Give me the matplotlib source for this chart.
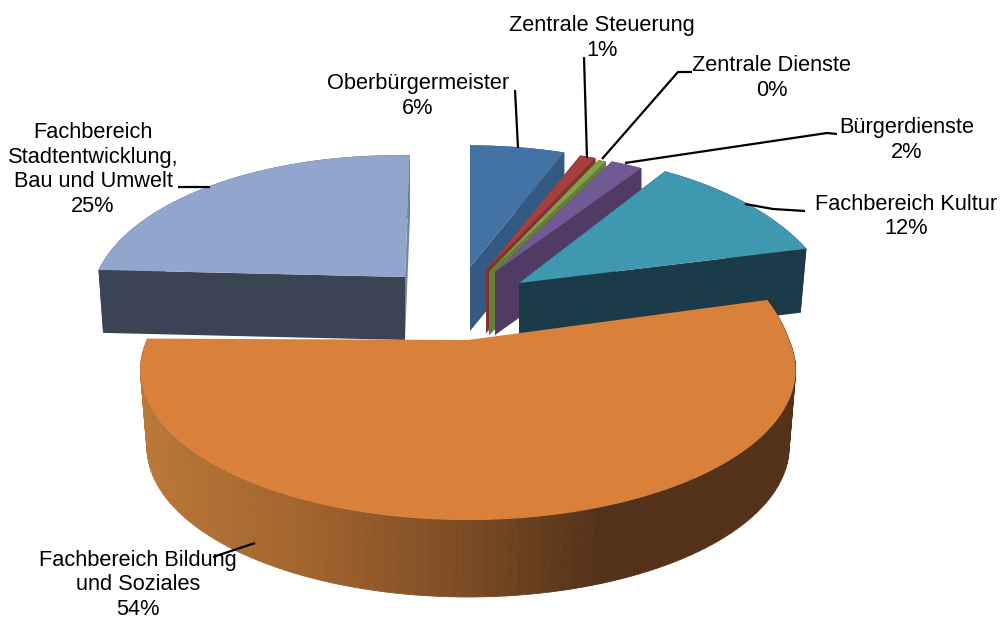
import numpy as np
import matplotlib
matplotlib.use('Agg')
import matplotlib.pyplot as plt
from matplotlib.colors import to_rgb

plt.rcParams['font.family'] = ['Liberation Sans', 'DejaVu Sans']

# chart data, clockwise from 12 o'clock
labels = ['Oberbürgermeister', 'Zentrale Steuerung', 'Zentrale Dienste', 'Bürgerdienste',
          'Fachbereich Kultur', 'Fachbereich Bildung\nund Soziales',
          'Fachbereich\nStadtentwicklung,\nBau und Umwelt']
values = [6, 1, 0.49, 2, 12, 54, 25]
percent_text = ['6%', '1%', '0%', '2%', '12%', '54%', '25%']

top_colors = ['#4372a5', '#a5403d', '#80a04a', '#715a93', '#3f97b0', '#d9813a', '#92a6cd']
wall_colors = ['#345a84', '#803332', '#647f35', '#4f3b63', '#1b3b48', '#8a5428', '#3b4455']

# exploded position and projection of each slice, in pixels
#           x0   y0   rx   ry  persp depth shrink
layout = [(470, 267, 305, 146, 0.20, 64, 1.00),
          (486, 270, 305, 146, 0.20, 63, 1.00),
          (489, 272, 305, 146, 0.20, 63, 1.00),
          (495, 272, 305, 146, 0.20, 63, 1.00),
          (519, 283, 310, 160, 0.226, 64, 0.98),
          (468, 340, 321, 144, 0.20, 77, 0.98),
          (405, 277, 307, 146, 0.20, 63, 0.985)]
draw_order = [0, 1, 2, 3, 4, 6, 5]
ORANGE = 5
SLATE = 6
back_ry = 186       # the orange slice leans a little more towards the back
slate_skew = 6

# label baselines and leader lines
text_pos = [(418, 89), (602, 31), (772, 71), (907, 133), (906, 210), (138, 566), (93, 138)]
leaders = [[(515, 90), (518, 148)],
           [(584, 57), (587, 158)],
           [(692, 72), (678, 72), (602, 159)],
           [(837, 134), (827, 133), (625, 163)],
           [(805, 211), (773, 209), (745, 204)],
           [(213, 557), (255, 543)],
           [(178, 187), (210, 187)]]
line_gap = 24.5

fractions = np.array(values) / sum(values)
edges = np.concatenate([[0], np.cumsum(fractions)]) * 2 * np.pi


def project(i, angle, bottom=False):
    x0, y0, rx, ry, k, depth, shrink = layout[i]
    u = np.sin(angle)
    v = np.cos(angle)
    skew = slate_skew if i == SLATE else 0
    ry_here = np.where((i == ORANGE) & (v > 0), back_ry, ry)
    x = (rx * u + skew * v) / (1 + k * v)
    y = (ry_here * v - skew * u) / (1 + k * v)
    if bottom:
        return x0 + x * shrink, y0 - y + depth
    return x0 + x, y0 - y


def orange_shade(x):
    stops_x = [140, 300, 470, 600, 795]
    stops = [to_rgb(c) for c in ['#ba7838', '#a3652f', '#7a4b24', '#543219', '#543219']]
    return tuple(np.interp(x, stops_x, [s[n] for s in stops]) for n in range(3))


fig = plt.figure(figsize=(10, 6.19), dpi=100)
ax = fig.add_axes([0, 0, 1, 1])
ax.set_xlim(0, 1000)
ax.set_ylim(619, 0)
ax.axis('off')

for i in draw_order:
    x0, y0 = layout[i][:2]
    depth = layout[i][5]
    angles = np.linspace(edges[i], edges[i + 1], 120 if i == ORANGE else 40)
    tx, ty = project(i, angles)
    bx, by = project(i, angles, bottom=True)

    # outer wall, the big slice gets a gradient
    if i == ORANGE:
        for n in range(len(angles) - 1):
            c = orange_shade((tx[n] + tx[n + 1]) / 2)
            ax.fill([tx[n], tx[n + 1], bx[n + 1], bx[n]], [ty[n], ty[n + 1], by[n + 1], by[n]],
                    facecolor=c, edgecolor=c, lw=0.6)
    else:
        ax.fill(np.r_[tx, bx[::-1]], np.r_[ty, by[::-1]], color=wall_colors[i], lw=0)

    # radial walls
    if i != ORANGE:
        ax.fill([x0, tx[0], bx[0], x0], [y0, ty[0], by[0], y0 + depth], color=wall_colors[i], lw=0)
        end_color = '#7088ab' if i == SLATE else wall_colors[i]
        ax.fill([x0, tx[-1], bx[-1], x0], [y0, ty[-1], by[-1], y0 + depth], color=end_color, lw=0)

    ax.fill(np.r_[x0, tx], np.r_[y0, ty], color=top_colors[i], lw=0)

for pts in leaders:
    xs, ys = zip(*pts)
    ax.plot(xs, ys, color='black', lw=1.6, solid_capstyle='butt')

for name, pct, (x, y) in zip(labels, percent_text, text_pos):
    lines = name.split('\n') + [pct]
    for n, line in enumerate(lines):
        ax.text(x, y + n * line_gap, line, ha='center', va='baseline', fontsize=15.7, color='black')

fig.savefig('out.png', dpi=100)
